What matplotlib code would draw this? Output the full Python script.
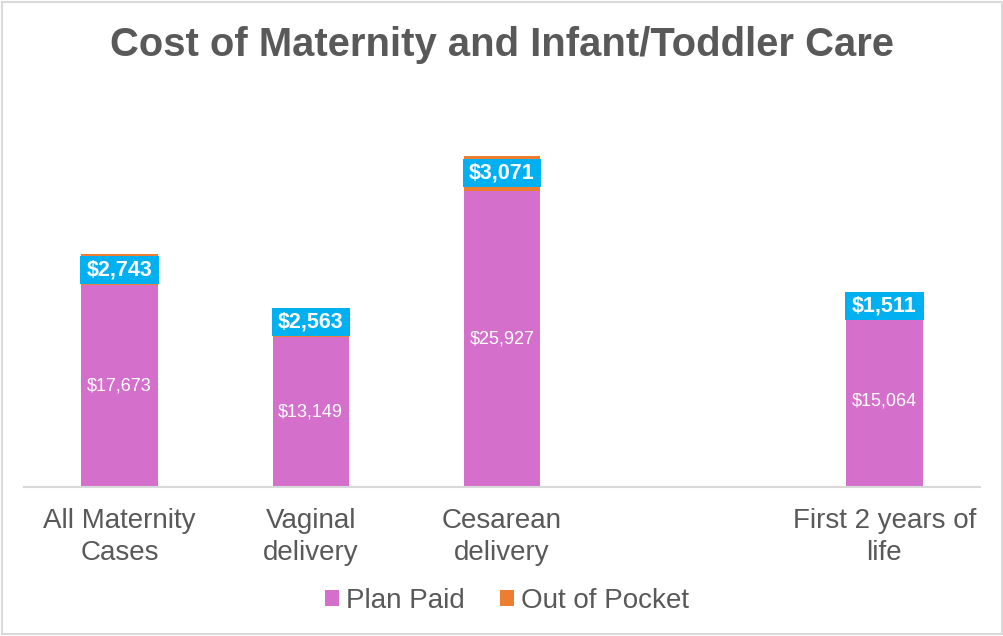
import numpy as np
import matplotlib.pyplot as plt
from matplotlib.patches import Rectangle

plt.rcParams['font.family'] = ['Liberation Sans', 'DejaVu Sans']

# chart data (blank slot keeps the gap before the last group)
categories = ["All Maternity\nCases", "Vaginal\ndelivery", "Cesarean\ndelivery", "", "First 2 years of\nlife"]
plan_paid = [17673, 13149, 25927, np.nan, 15064]
out_of_pocket = [2743, 2563, 3071, np.nan, 1511]

pink = "#D46FCC"
orange = "#ED7D31"
cyan = "#00B0F0"
grey = "#595959"

fig = plt.figure(figsize=(10.04, 6.36), dpi=100)
fig.patches.append(Rectangle((0.002, 0.003), 0.996, 0.994, transform=fig.transFigure,
                             fill=False, edgecolor="#D9D9D9", linewidth=1.5))
ax = fig.add_axes([24 / 1004, 1 - 487 / 636, 956 / 1004, (487 - 87.3) / 636])

x = np.arange(len(categories))
bw = 0.40
b1 = ax.bar(x, plan_paid, width=bw, color=pink, label="Plan Paid")
b2 = ax.bar(x, out_of_pocket, width=bw, bottom=plan_paid, color=orange, label="Out of Pocket")

# value labels, the out-of-pocket one sits in a cyan box the width of the bar
box_h = 2450
for i in range(len(categories)):
    if np.isnan(plan_paid[i]):
        continue
    ax.text(x[i], plan_paid[i] / 2, f"${plan_paid[i]:,.0f}", ha="center", va="center",
            color="white", fontsize=13)
    yc = plan_paid[i] + out_of_pocket[i] / 2
    ax.add_patch(Rectangle((x[i] - 0.205, yc - box_h / 2), 0.41, box_h,
                           facecolor=cyan, edgecolor="none", zorder=3))
    ax.text(x[i], yc, f"${out_of_pocket[i]:,.0f}", ha="center", va="center",
            color="white", fontsize=15.5, fontweight="bold", zorder=4)

ax.set_xlim(-0.5, len(categories) - 0.5)
ax.set_ylim(0, 35000)
ax.set_xticks(x)
ax.set_xticklabels(categories, fontsize=20, color=grey, linespacing=1.32)
ax.tick_params(axis="x", length=0, pad=15)
ax.set_yticks([])
for s in ["top", "right", "left"]:
    ax.spines[s].set_visible(False)
ax.spines["bottom"].set_color("#D9D9D9")
ax.spines["bottom"].set_linewidth(1.5)

fig.suptitle("Cost of Maternity and Infant/Toddler Care", x=0.5, y=1 - 45 / 636, va="center",
             fontsize=28.8, fontweight="bold", color=grey)

leg = fig.legend(handles=[b1, b2], loc="center", bbox_to_anchor=(0.505, 1 - 601 / 636), ncol=2,
                 frameon=False, fontsize=20, handlelength=0.5, handleheight=0.5,
                 handletextpad=0.25, columnspacing=1.3)
for t in leg.get_texts():
    t.set_color(grey)

fig.savefig("out.png", dpi=100)
